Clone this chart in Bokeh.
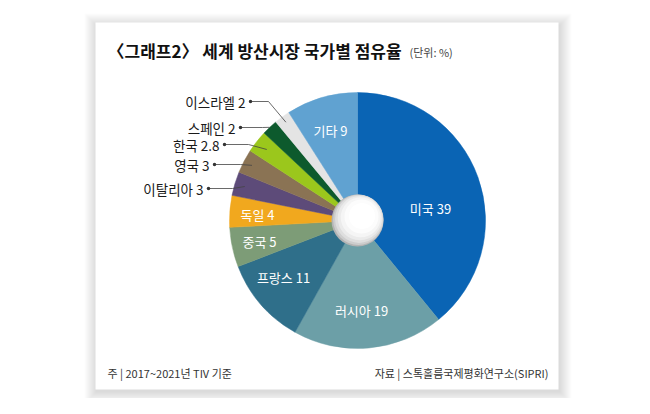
import math
from bokeh.plotting import figure
from bokeh.models import ColumnDataSource
from bokeh.core.properties import value
from bokeh.embed import file_html
from bokeh.resources import INLINE

# ---- data ----
countries = ["미국", "러시아", "프랑스", "중국", "독일", "이탈리아", "영국", "한국", "스페인", "이스라엘", "기타"]
shares = [39, 19, 11, 5, 4, 3, 3, 2.8, 2, 2, 9]
share_labels = ["39", "19", "11", "5", "4", "3", "3", "2.8", "2", "2", "9"]
colors = ["#0a64b4", "#6c9fa7", "#2f6f8a", "#7d9c77", "#f1a81e", "#5d4b79",
          "#8a7354", "#9bc71c", "#0d5a2d", "#e4e4e4", "#60a2d1"]

title = "〈그래프2〉 세계 방산시장 국가별 점유율"
unit = "(단위: %)"
note = "주 | 2017~2021년 TIV 기준"
source_txt = "자료 | 스톡홀름국제평화연구소(SIPRI)"

FONT = value("Noto Sans CJK KR")
H = 414
def Y(v):
    return H - v

p = figure(width=634, height=398, x_range=(0, 634), y_range=(16, 414),
           output_backend="svg", toolbar_location=None, min_border=0)
p.axis.visible = False
p.grid.visible = False
p.outline_line_color = None
p.background_fill_color = "white"
p.border_fill_color = "white"

# panel shadow + panel
px0, px1, py0, py1 = 95, 558, 22, 389
for i in range(1, 13):
    p.quad(left=px0 - i + 1, right=px1 + i + 1, top=Y(py0 - i + 3), bottom=Y(py1 + i + 2),
           fill_color="black", fill_alpha=0.012, line_color=None)
p.quad(left=px0, right=px1, top=Y(py0), bottom=Y(py1), fill_color="white", line_color=None)

# pie
cx, cy, R = 357, Y(220), 128
total = sum(shares)
starts, ends, mids = [], [], []
acc = 0.0
for v in shares:
    a0 = acc / total * 2 * math.pi
    acc += v
    a1 = acc / total * 2 * math.pi
    starts.append(math.pi / 2 - a1)
    ends.append(math.pi / 2 - a0)
    mids.append(math.pi / 2 - (a0 + a1) / 2)

src = ColumnDataSource(dict(start=starts, end=ends, color=colors))
p.wedge(x=cx, y=cy, radius=R, start_angle="start", end_angle="end",
        fill_color="color", line_color="color", line_width=0.5, source=src)

# hole with shading
hole = [(0, 0, 26, "#b4b4b4"), (0.8, 0.8, 25.2, "#cdcdcd"), (1.6, 1.6, 24, "#dedede"),
        (2.4, 2.4, 22.2, "#ebebeb"), (3.2, 3.2, 20, "#f5f5f5"), (4, 4, 17, "#fcfcfc"),
        (4.5, 4.5, 13, "#ffffff")]
for dx, dy, r, c in hole:
    p.circle(x=cx + dx, y=cy + dy, radius=r, fill_color=c, line_color=None)

# inside labels
in_pos = {0: (430, 208), 1: (361, 310), 2: (283, 277), 3: (259, 241), 4: (257, 214), 10: (330, 130)}
ix, iy, itxt = [], [], []
for i, (x, y) in in_pos.items():
    ix.append(x); iy.append(Y(y)); itxt.append(f"{countries[i]} {share_labels[i]}")
p.text(x=ix, y=iy, text=itxt, text_font=FONT, text_font_size="13px", text_color="white",
       text_align="center", text_baseline="middle")

# outside labels with leaders
out_layout = {9: (250, 101, 268, 0.95), 8: (240, 127, 262, 1.0), 7: (224, 144, 248, 0.9),
              6: (214, 164, 240, 0.93), 5: (208, 188, 232, 0.92)}
ox, oy, otxt, lxs, lys, dx_, dy_ = [], [], [], [], [], [], []
for i, (dotx, doty, bendx, rf) in out_layout.items():
    ex = cx + R * rf * math.cos(mids[i])
    ey = cy + R * rf * math.sin(mids[i])
    lxs.append([dotx, bendx, ex]); lys.append([Y(doty), Y(doty), ey])
    dx_.append(dotx); dy_.append(Y(doty))
    ox.append(dotx - 5); oy.append(Y(doty)); otxt.append(f"{countries[i]} {share_labels[i]}")
p.multi_line(xs=lxs, ys=lys, line_color="#444444", line_width=0.8)
p.scatter(x=dx_, y=dy_, size=3.5, fill_color="#333333", line_color=None)
p.text(x=ox, y=oy, text=otxt, text_font=FONT, text_font_size="13.5px", text_color="#1a1a1a",
       text_align="right", text_baseline="middle")

# title
p.text(x=[107], y=[Y(50)], text=[title], text_font=FONT, text_font_size="17px",
       text_font_style="bold", text_color="#111111", text_baseline="middle")
p.text(x=[409], y=[Y(51)], text=[unit], text_font=FONT, text_font_size="11px",
       text_color="#444444", text_baseline="middle")

# footer
p.text(x=[107], y=[Y(372)], text=[note], text_font=FONT, text_font_size="11px",
       text_color="#333333", text_baseline="middle")
p.text(x=[548], y=[Y(372)], text=[source_txt], text_font=FONT, text_font_size="11px",
       text_color="#333333", text_baseline="middle", text_align="right")

open("out.html", "w").write(file_html(p, INLINE))
